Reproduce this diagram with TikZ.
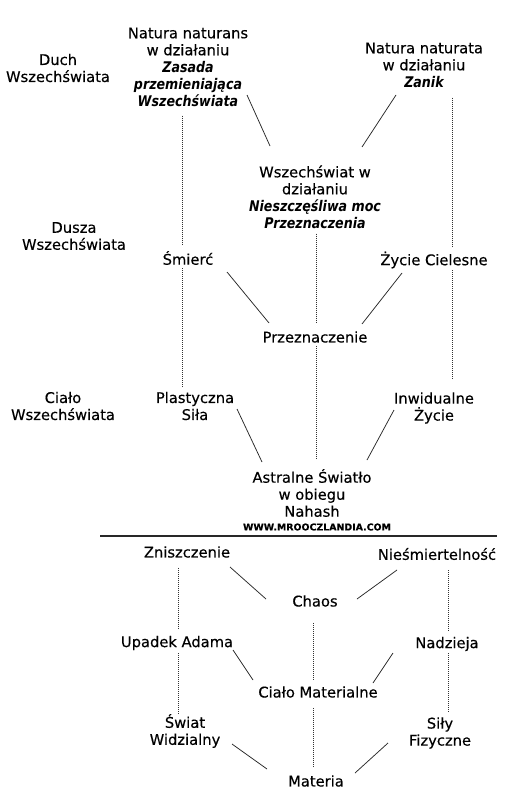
\documentclass[tikz,border=0pt]{standalone}
\usepackage{fontspec}
\setmainfont{DejaVu Sans}[FakeBold=0.3]
\newfontfamily\slantfont[FakeStretch=0.86]{DejaVu Sans}
\usetikzlibrary{calc}
\definecolor{inkline}{RGB}{40,40,40}
\definecolor{dotgray}{RGB}{50,50,50}
\tikzset{
  term/.style={
    align=center, inner sep=0pt,
    font=\fontsize{14.7}{17}\selectfont, text=black
  },
  siteurl/.style={inner sep=0pt, font=\fontsize{9.4}{11}\selectfont\bfseries},
  link/.style={draw=inkline, line width=0.75pt},
  dotlink/.style={draw=dotgray, line width=0.85pt, dash pattern=on 0.8pt off 1.2pt},
  divider/.style={draw=inkline, line width=1.1pt}
}
\newcommand{\kw}[1]{{\slantfont\bfseries\itshape #1}}

\begin{document}
\begin{tikzpicture}[x=1pt, y=-1pt]
  \fill[white] (0,0) rectangle (520,800);

  % columns of the dotted lines
  \coordinate (upL) at (182,0);
  \coordinate (upM) at (316,0);
  \coordinate (upR) at (452,0);
  \coordinate (loL) at (178,0);
  \coordinate (loM) at (313,0);
  \coordinate (loR) at (448,0);

  % row labels
  \node[term] (duch)  at (58,68)  {Duch\\Wszechświata};
  \node[term] (dusza) at (74,236) {Dusza\\Wszechświata};
  \node[term] (cialo) at (63,406) {Ciało\\Wszechświata};

  % upper tree
  \node[term] (nn)     at (188,67)  {Natura naturans\\w działaniu\\\kw{Zasada}\\\kw{przemieniająca}\\\kw{Wszechświata}};
  \node[term] (nnat)   at (424,65)  {Natura naturata\\w działaniu\\\kw{Zanik}};
  \node[term] (wsz)    at (315,197) {Wszechświat w\\działaniu\\\kw{Nieszczęśliwa moc}\\\kw{Przeznaczenia}};
  \node[term] (smierc) at (188,258) {Śmierć};
  \node[term] (zycie)  at (434,260) {Życie Cielesne};
  \node[term] (przezn) at (315,337) {Przeznaczenie};
  \node[term] (plast)  at (195,406) {Plastyczna\\Siła};
  \node[term] (inwid)  at (434,408) {Inwidualne\\Życie};
  \node[term] (astral) at (312,493) {Astralne Światło\\w obiegu\\Nahash};
  \node[siteurl] (www) at (317,527) {WWW.MROOCZLANDIA.COM};

  \draw[divider] (100,536) -- (497,536);

  % lower tree
  \node[term] (znisz)   at (187,552) {Zniszczenie};
  \node[term] (niesm)   at (437,554) {Nieśmiertelność};
  \node[term] (chaos)   at (315,601) {Chaos};
  \node[term] (upadek)  at (177,643) {Upadek Adama};
  \node[term] (nadz)    at (447,644) {Nadzieja};
  \node[term] (cmat)    at (318,692) {Ciało Materialne};
  \node[term] (swiat)   at (185,731) {Świat\\Widzialny};
  \node[term] (sily)    at (440,733) {Siły\\Fizyczne};
  \node[term] (materia) at (316,781) {Materia};

  % solid links
  \draw[link] ($(nn.center)+(59,28)$) -- ($(wsz.center)+(-45,-51)$);
  \draw[link] ($(nnat.center)+(-28,30)$) -- ($(wsz.center)+(47,-50)$);
  \draw[link] ($(smierc.center)+(39,14)$) -- ($(przezn.center)+(-46,-14)$);
  \draw[link] ($(zycie.center)+(-32,13)$) -- ($(przezn.center)+(47,-13)$);
  \draw[link] ($(plast.center)+(42,3)$) -- ($(astral.center)+(-50,-31)$);
  \draw[link] ($(inwid.center)+(-40,2)$) -- ($(astral.center)+(55,-33)$);

  \draw[link] ($(znisz.center)+(43,15)$) -- ($(chaos.center)+(-49,-2)$);
  \draw[link] ($(niesm.center)+(-40,16)$) -- ($(chaos.center)+(42,-2)$);
  \draw[link] ($(upadek.center)+(56,7)$) -- ($(cmat.center)+(-65,-12)$);
  \draw[link] ($(nadz.center)+(-54,9)$) -- ($(cmat.center)+(55,-9)$);
  \draw[link] ($(swiat.center)+(47,13)$) -- ($(materia.center)+(-49,-12)$);
  \draw[link] ($(sily.center)+(-52,10)$) -- ($(materia.center)+(39,-8)$);

  % dotted links
  \draw[dotlink, shorten <=9pt, shorten >=6pt] (nn.south -| upL) -- (smierc.north -| upL);
  \draw[dotlink, shorten <=3pt, shorten >=5pt] (smierc.south -| upL) -- (plast.north -| upL);
  \draw[dotlink, shorten <=10pt, shorten >=4pt] (nnat.south -| upR) -- (zycie.north -| upR);
  \draw[dotlink, shorten <=2pt, shorten >=12pt] (zycie.south -| upR) -- (inwid.north -| upR);
  \draw[dotlink, shorten <=5pt, shorten >=9pt] (wsz.south -| upM) -- (przezn.north -| upM);
  \draw[dotlink, shorten <=3pt, shorten >=9pt] (przezn.south -| upM) -- (astral.north -| upM);

  \draw[dotlink, shorten <=10pt, shorten >=6pt] (znisz.south -| loL) -- (upadek.north -| loL);
  \draw[dotlink, shorten <=3pt] (upadek.south -| loL) -- (swiat.north -| loL);
  \draw[dotlink, shorten <=10pt, shorten >=5pt] (niesm.south -| loR) -- (nadz.north -| loR);
  \draw[dotlink, shorten <=2pt, shorten >=5pt] (nadz.south -| loR) -- (sily.north -| loR);
  \draw[dotlink, shorten <=16pt, shorten >=7pt] (chaos.south -| loM) -- (cmat.north -| loM);
  \draw[dotlink, shorten <=10pt, shorten >=8pt] (cmat.south -| loM) -- (materia.north -| loM);
\end{tikzpicture}
\end{document}
